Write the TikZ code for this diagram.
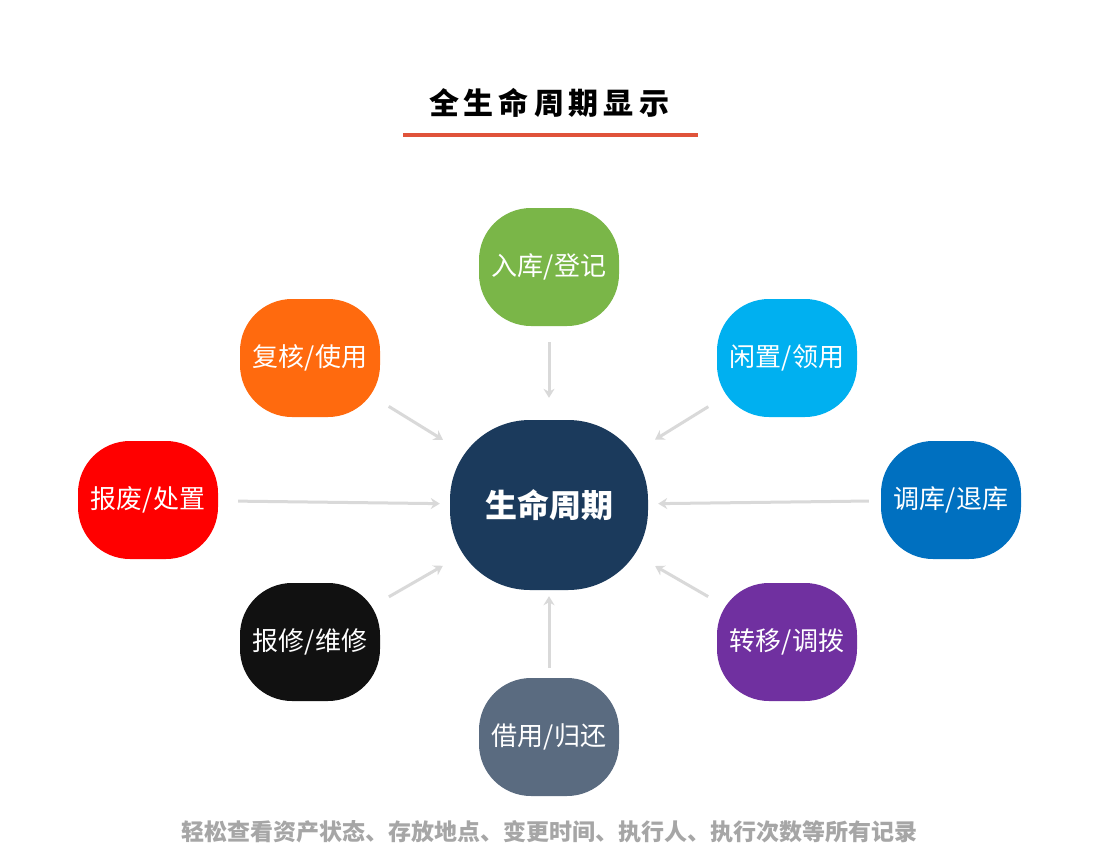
\documentclass[tikz,border=0pt]{standalone}
\usepackage{fontspec}
\usetikzlibrary{arrows.meta}
\setmainfont{Noto Sans CJK SC}
\begin{document}
\begin{tikzpicture}[x=1pt,y=-1pt,
  blob/.style={rectangle,rounded corners=52pt,minimum width=140pt,minimum height=118pt,text=white,font=\fontsize{26}{30}\selectfont,inner sep=0pt},
  arr/.style={draw=black!15,line width=3pt,-{Stealth[length=9pt,width=11pt]}}]
\useasboundingbox (0,0) rectangle (1100,854);
\fill[white] (0,0) rectangle (1100,854);
\definecolor{cnavy}{HTML}{1B3A5C}
\node[font=\bfseries\fontsize{30}{34}\selectfont] (title) at (549,103) {全\,生\,命\,周\,期\,显\,示};
\draw[line width=4pt,color={rgb,255:red,224;green,83;blue,58}] (403,135) -- (698,135);
\node[blob,fill=cnavy,minimum width=198pt,minimum height=170pt,rounded corners=80pt,font=\bfseries\fontsize{32}{36}\selectfont] (c) at (549,505) {生命周期};
\node[blob,fill={rgb,255:red,122;green,182;blue,72}] (t) at (549,267) {入库/登记};
\node[blob,fill={rgb,255:red,255;green,106;blue,14}] (tl) at (310,358) {复核/使用};
\node[blob,fill={rgb,255:red,0;green,176;blue,240}] (tr) at (787,358) {闲置/领用};
\node[blob,fill={rgb,255:red,255;green,0;blue,0}] (l) at (148,500) {报废/处置};
\node[blob,fill={rgb,255:red,0;green,112;blue,192}] (r) at (951,500) {调库/退库};
\node[blob,fill={rgb,255:red,17;green,17;blue,17}] (bl) at (310,642) {报修/维修};
\node[blob,fill={rgb,255:red,112;green,48;blue,160}] (br) at (787,642) {转移/调拨};
\node[blob,fill={rgb,255:red,90;green,107;blue,128}] (b) at (549,737) {借用/归还};
\draw[arr,shorten <=16pt,shorten >=22pt] (t) -- (c);
\draw[arr,shorten <=10pt,shorten >=8pt] (tl) -- (c);
\draw[arr,shorten <=10pt,shorten >=8pt] (tr) -- (c);
\draw[arr,shorten <=20pt,shorten >=10pt] (l) -- (c);
\draw[arr,shorten <=12pt,shorten >=10pt] (r) -- (c);
\draw[arr,shorten <=10pt,shorten >=8pt] (bl) -- (c);
\draw[arr,shorten <=10pt,shorten >=8pt] (br) -- (c);
\draw[arr,shorten <=10pt,shorten >=6pt] (b) -- (c);
\node[text=black!35,font=\bfseries\fontsize{23}{26}\selectfont] (foot) at (549,832) {轻松查看资产状态、存放地点、变更时间、执行人、执行次数等所有记录};
\end{tikzpicture}
\end{document}
